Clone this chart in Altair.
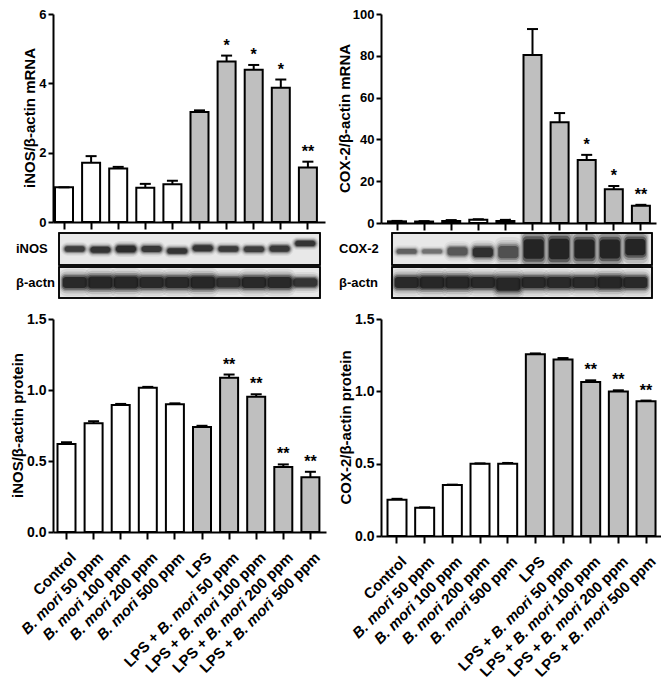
import altair as alt
import pandas as pd

# ---------------- data ----------------
cats = ["Control", "B. mori 50 ppm", "B. mori 100 ppm", "B. mori 200 ppm",
        "B. mori 500 ppm", "LPS", "LPS + B. mori 50 ppm", "LPS + B. mori 100 ppm",
        "LPS + B. mori 200 ppm", "LPS + B. mori 500 ppm"]
treatment = ["none", "none", "none", "none", "none", "LPS", "LPS", "LPS", "LPS", "LPS"]

inos_mrna = [1.0, 1.71, 1.54, 0.99, 1.09, 3.17, 4.63, 4.39, 3.87, 1.57]
inos_mrna_err = [0.0, 0.19, 0.05, 0.11, 0.10, 0.05, 0.17, 0.14, 0.24, 0.17]
inos_mrna_sig = ["", "", "", "", "", "", "*", "*", "*", "**"]

cox2_mrna = [0.8, 0.7, 1.0, 1.5, 1.0, 80.4, 48.2, 30.1, 16.1, 8.2]
cox2_mrna_err = [0.2, 0.2, 0.4, 0.3, 0.5, 12.4, 4.4, 2.5, 1.6, 0.5]
cox2_mrna_sig = ["", "", "", "", "", "", "", "*", "*", "**"]

inos_prot = [0.62, 0.765, 0.894, 1.016, 0.90, 0.74, 1.087, 0.953, 0.457, 0.386]
inos_prot_err = [0.012, 0.015, 0.008, 0.006, 0.006, 0.008, 0.022, 0.017, 0.019, 0.038]
inos_prot_sig = ["", "", "", "", "", "", "**", "**", "**", "**"]

cox2_prot = [0.25, 0.195, 0.352, 0.50, 0.50, 1.257, 1.22, 1.064, 0.998, 0.931]
cox2_prot_err = [0.007, 0.003, 0.003, 0.002, 0.005, 0.005, 0.010, 0.012, 0.009, 0.005]
cox2_prot_sig = ["", "", "", "", "", "", "", "**", "**", "**"]

# western blot band readings (relative intensity, half thickness, migration shift)
inos_band_intensity = [0.78, 0.85, 0.92, 0.82, 0.85, 0.85, 0.80, 0.78, 0.82, 0.85]
inos_band_width = [0.20, 0.22, 0.24, 0.22, 0.20, 0.22, 0.20, 0.20, 0.22, 0.20]
inos_band_shift = [0.0, -0.05, 0.0, 0.0, -0.12, 0.05, 0.0, -0.02, 0.02, 0.35]
actin_l_intensity = [0.95, 0.97, 0.97, 0.95, 0.95, 0.97, 0.90, 0.95, 0.95, 0.85]
actin_l_width = [0.42, 0.45, 0.45, 0.42, 0.42, 0.45, 0.38, 0.42, 0.42, 0.32]
actin_l_shift = [0.0, 0.0, 0.0, 0.0, 0.0, 0.0, 0.0, 0.0, 0.0, 0.0]

cox2_band_intensity = [0.55, 0.45, 0.60, 0.90, 0.65, 1.0, 1.0, 1.0, 1.0, 1.0]
cox2_band_width = [0.18, 0.16, 0.30, 0.35, 0.45, 0.72, 0.75, 0.70, 0.70, 0.60]
cox2_band_shift = [-0.15, -0.15, -0.15, -0.2, -0.2, 0.0, 0.0, 0.0, 0.0, 0.12]
actin_r_intensity = [0.95, 0.97, 0.97, 0.95, 0.97, 0.95, 0.95, 0.95, 0.97, 0.95]
actin_r_width = [0.42, 0.45, 0.45, 0.42, 0.50, 0.42, 0.42, 0.42, 0.45, 0.42]
actin_r_shift = [0.0, 0.0, 0.0, 0.0, -0.1, 0.0, 0.0, 0.0, 0.0, 0.0]

# ---------------- styling ----------------
FONT = "Liberation Sans"
GRAY = "#bfbfbf"
LBL_FS = 15

# Arial/Liberation Sans Bold advance widths (per 1000 em)
ADV = {" ": 278, "+": 584, ".": 278, "B": 722, "C": 722, "L": 611, "P": 667,
       "S": 667, "e": 556, "i": 278, "l": 278, "m": 889, "n": 611, "o": 611,
       "p": 611, "r": 389, "t": 333}
for d in "0123456789":
    ADV[d] = 556


def tw(s, fs):
    return sum(ADV.get(ch, 556) for ch in s) * fs / 1000.0


def band_scale(W, step, bw, c0):
    n = len(cats)
    pi = 1 - bw / step
    space = W - step * (n - pi)
    po = space / (2 * step)
    al = (c0 - bw / 2) / space
    return alt.Scale(domain=cats, paddingInner=pi, paddingOuter=po, align=al)


def label_layers(x_enc, H):
    layers = []
    for c in cats:
        if "B. mori" in c:
            pre, post = c.split("B. mori")
            parts = [(pre, "normal"), ("B. mori", "italic"), (post, "normal")]
        else:
            parts = [(c, "normal")]
        pos = 0
        for text, style in parts:
            start = pos
            pos += len(text)
            stripped = text.strip()
            if not stripped:
                continue
            lead = len(text) - len(text.lstrip())
            s_end = start + lead + len(stripped)
            dx = 4.95 - tw(c[s_end:], LBL_FS)
            layers.append(
                alt.Chart(pd.DataFrame({"cat": [c], "t": [stripped]}))
                .mark_text(angle=315, align="right", baseline="middle", dx=dx, dy=4.95,
                           fontSize=LBL_FS, fontWeight="bold", fontStyle=style,
                           font=FONT, color="black")
                .encode(x=x_enc, y=alt.value(H + 23), text="t:N")
            )
    return layers


def bar_panel(values, errs, sigs, W, H, step, bw, c0, ymax, yvals, yfmt,
              title, title_x, tick_label_fs, bottom):
    df = pd.DataFrame({"cat": cats, "grp": treatment, "v": values, "e": errs, "sig": sigs})
    df["top"] = df["v"] + df["e"]
    x_enc = alt.X("cat:N", scale=band_scale(W, step, bw, c0),
                  axis=alt.Axis(labels=False, title=None, tickSize=7))
    yscale = alt.Scale(domain=[0, ymax], nice=False, zero=True)
    base = alt.Chart(df).encode(x=x_enc)
    bars = base.mark_bar(stroke="black", strokeWidth=2).encode(
        y=alt.Y("v:Q", scale=yscale,
                axis=alt.Axis(values=yvals, format=yfmt, title=None,
                              labelFontSize=tick_label_fs)),
        fill=alt.Fill("grp:N", scale=alt.Scale(domain=["none", "LPS"], range=["white", GRAY]),
                      legend=None),
    )
    rule = base.mark_rule(strokeWidth=2, color="black").encode(y="v:Q", y2="top:Q")
    cap = base.mark_tick(size=11, thickness=2, color="black", opacity=1).encode(y="top:Q")
    stars = (base.transform_filter("datum.sig != ''")
             .mark_text(baseline="alphabetic", dy=-5, fontSize=16, fontWeight="bold",
                        font=FONT, color="black")
             .encode(y="top:Q", text="sig:N"))
    ytitle = (alt.Chart(pd.DataFrame({"t": [title]}))
              .mark_text(angle=270, align="center", baseline="middle", fontSize=15,
                         fontWeight="bold", font=FONT, color="black")
              .encode(x=alt.value(title_x), y=alt.value(H / 2), text="t:N"))
    layers = [bars, rule, cap, stars, ytitle]
    if bottom:
        layers += label_layers(x_enc, H)
    return alt.layer(*layers).properties(width=W, height=H)


# blur passes: (thickness factor, opacity factor, extra width, corner radius)
BLUR = [(2.1, 0.07, 6, 8), (1.7, 0.12, 4, 7), (1.35, 0.22, 2, 5),
        (1.1, 0.38, 0, 4), (0.85, 0.6, -2, 3)]


def blot_panel(label, inten, thick, shift, W, H, box, lane_range, core_w, label_x):
    df = pd.DataFrame({"lane": cats, "i": inten, "t": thick, "s": shift})
    one = pd.DataFrame({"a": [0]})
    frame = alt.Chart(one).mark_rect(fill="#e8e8e8", stroke="black", strokeWidth=1.5).encode(
        x=alt.value(box[0]), x2=alt.value(box[1]), y=alt.value(0), y2=alt.value(H))
    x_enc = alt.X("lane:N", scale=alt.Scale(domain=cats, range=list(lane_range),
                                            paddingInner=0.08, paddingOuter=0), axis=None)
    layers = [frame]
    for k, f, extra, cr in BLUR:
        layers.append(
            alt.Chart(df)
            .transform_calculate(lo=f"datum.s - datum.t*{k}", hi=f"datum.s + datum.t*{k}",
                                 op=f"min(1, datum.i*{f})")
            .mark_bar(color="black", width=core_w + extra, cornerRadius=cr, clip=True)
            .encode(x=x_enc,
                    y=alt.Y("lo:Q", scale=alt.Scale(domain=[-1, 1]), axis=None),
                    y2="hi:Q",
                    opacity=alt.Opacity("op:Q", scale=None, legend=None))
        )
    border = alt.Chart(one).mark_rect(fill=None, stroke="black", strokeWidth=1.5).encode(
        x=alt.value(box[0]), x2=alt.value(box[1]), y=alt.value(0), y2=alt.value(H))
    txt = alt.Chart(one).mark_text(align="left", baseline="middle", fontSize=13,
                                   fontWeight="bold", font=FONT, color="black").encode(
        x=alt.value(label_x), y=alt.value(H / 2), text=alt.value(label))
    layers += [border, txt]
    return alt.layer(*layers).properties(width=W, height=H)


def spacer(H):
    return (alt.Chart(pd.DataFrame({"a": [0]})).mark_point(opacity=0)
            .encode(x=alt.value(0), y=alt.value(0)).properties(width=10, height=H))


TL = bar_panel(inos_mrna, inos_mrna_err, inos_mrna_sig, 272, 208, 27.1, 18, 11, 6,
               [0, 2, 4, 6], "d", "iNOS/β-actin mRNA", -23, 13, False)
TR = bar_panel(cox2_mrna, cox2_mrna_err, cox2_mrna_sig, 275, 209, 27.1, 18, 16, 100,
               [0, 20, 40, 60, 80, 100], "d", "COX-2/β-actin mRNA", -36, 13, False)
BL = bar_panel(inos_prot, inos_prot_err, inos_prot_sig, 273, 213, 27.1, 18, 13.5, 1.5,
               [0, 0.5, 1.0, 1.5], ".1f", "iNOS/β-actin protein", -35, 14, True)
BR = bar_panel(cox2_prot, cox2_prot_err, cox2_prot_sig, 280, 217, 27.67, 19, 16, 1.5,
               [0, 0.5, 1.0, 1.5], ".1f", "COX-2/β-actin protein", -35, 14, True)

L1 = blot_panel("iNOS", inos_band_intensity, inos_band_width, inos_band_shift,
                272, 32, (6, 267), (10, 264), 22, -37)
L2 = blot_panel("β-actn", actin_l_intensity, actin_l_width, actin_l_shift,
                272, 31, (6, 267), (10, 264), 26, -37)
R1 = blot_panel("COX-2", cox2_band_intensity, cox2_band_width, cox2_band_shift,
                275, 32, (11, 271), (14, 266), 22, -42)
R2 = blot_panel("β-actn", actin_r_intensity, actin_r_width, actin_r_shift,
                275, 31, (11, 271), (14, 266), 26, -42)

chart = (
    alt.concat(TL, TR, spacer(10), spacer(10), L1, R1, spacer(2), spacer(2),
               L2, R2, spacer(21), spacer(21), BL, BR,
               columns=2, spacing={"row": 0, "column": 55}, bounds="flush", align="each")
    .properties(padding={"left": 3, "top": 0, "right": 0, "bottom": 0})
    .configure_view(strokeWidth=0)
    .configure_axis(grid=False, domainColor="black", domainWidth=2, tickColor="black",
                    tickWidth=2, labelColor="black", labelFont=FONT, labelFontWeight="bold")
    .configure_axisY(tickSize=5, labelPadding=2)
    .configure_axisX(tickSize=7)
    .configure_text(font=FONT)
)

chart.save("out.html", embed_options={"renderer": "svg", "actions": False})
